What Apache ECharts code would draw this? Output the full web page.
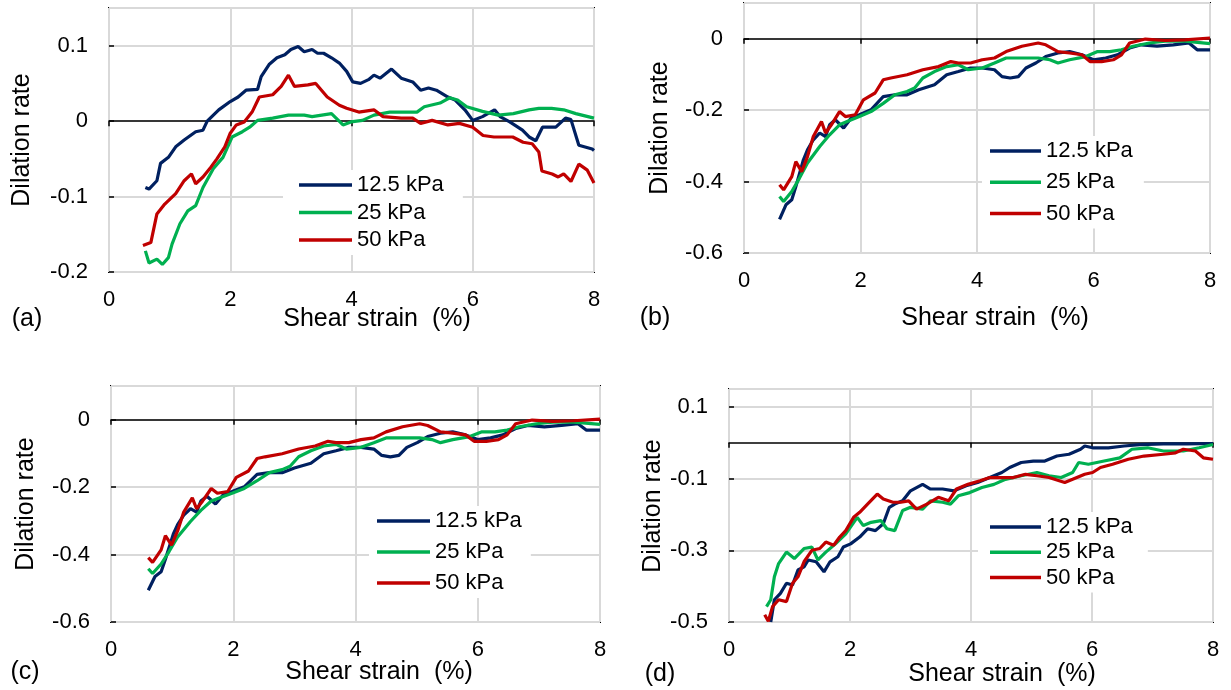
<!DOCTYPE html>
<html>
<head>
<meta charset="utf-8">
<script src="https://cdn.jsdelivr.net/npm/echarts@6/dist/echarts.min.js"></script>
<style>
html,body{margin:0;padding:0;background:#fff;}
#chart{width:1231px;height:690px;}
</style>
</head>
<body>
<div id="chart"></div>
<script>
// ---------- DATA ----------
const seriesNames = ['12.5 kPa', '25 kPa', '50 kPa'];
const xTicks = [0, 2, 4, 6, 8];

// (a)
const a125 = [[0.6,-0.088],[0.66,-0.09],[0.79,-0.079],[0.85,-0.056],[0.98,-0.048],[1.1,-0.034],[1.24,-0.025],[1.43,-0.014],[1.55,-0.012],[1.62,0.0],[1.81,0.015],[2.0,0.026],[2.13,0.032],[2.26,0.041],[2.45,0.042],[2.51,0.059],[2.64,0.075],[2.77,0.084],[2.9,0.088],[3.0,0.095],[3.12,0.099],[3.22,0.092],[3.35,0.095],[3.44,0.09],[3.54,0.09],[3.67,0.084],[3.8,0.077],[3.92,0.066],[4.02,0.052],[4.15,0.05],[4.28,0.055],[4.37,0.061],[4.47,0.057],[4.66,0.069],[4.82,0.057],[5.01,0.052],[5.14,0.041],[5.27,0.044],[5.4,0.041],[5.59,0.032],[5.71,0.028],[5.87,0.015],[6.0,0.001],[6.16,0.006],[6.36,0.015],[6.45,0.006],[6.61,-0.001],[6.82,-0.012],[6.93,-0.021],[7.04,-0.026],[7.15,-0.008],[7.37,-0.008],[7.53,0.004],[7.62,0.002],[7.75,-0.032],[7.97,-0.037],[8.0,-0.039]];
const a25 = [[0.6,-0.172],[0.66,-0.188],[0.79,-0.183],[0.88,-0.19],[0.98,-0.181],[1.04,-0.163],[1.17,-0.136],[1.3,-0.119],[1.43,-0.112],[1.55,-0.088],[1.72,-0.063],[1.88,-0.048],[2.03,-0.021],[2.2,-0.014],[2.32,-0.008],[2.45,0.001],[2.7,0.004],[2.96,0.008],[3.22,0.008],[3.35,0.006],[3.67,0.01],[3.86,-0.005],[3.99,-0.001],[4.18,0.001],[4.37,0.008],[4.63,0.012],[4.88,0.012],[5.08,0.012],[5.2,0.019],[5.46,0.024],[5.62,0.031],[5.75,0.028],[5.9,0.019],[6.16,0.013],[6.42,0.008],[6.67,0.01],[6.93,0.015],[7.09,0.017],[7.3,0.017],[7.5,0.015],[7.7,0.01],[8.0,0.004]];
const a50 = [[0.56,-0.165],[0.69,-0.161],[0.79,-0.123],[0.92,-0.11],[1.1,-0.096],[1.24,-0.079],[1.36,-0.07],[1.43,-0.083],[1.55,-0.074],[1.68,-0.061],[1.78,-0.05],[1.91,-0.034],[2.0,-0.016],[2.1,-0.005],[2.23,-0.001],[2.36,0.012],[2.48,0.032],[2.7,0.035],[2.84,0.046],[2.96,0.061],[3.06,0.046],[3.28,0.048],[3.41,0.05],[3.6,0.032],[3.8,0.021],[3.92,0.017],[4.12,0.012],[4.37,0.015],[4.52,0.006],[4.82,0.004],[5.01,0.004],[5.14,-0.003],[5.33,0.001],[5.59,-0.005],[5.78,-0.003],[6.0,-0.008],[6.17,-0.019],[6.35,-0.021],[6.66,-0.021],[6.83,-0.028],[6.98,-0.03],[7.09,-0.041],[7.14,-0.066],[7.31,-0.07],[7.41,-0.074],[7.5,-0.07],[7.62,-0.08],[7.75,-0.057],[7.89,-0.065],[8.0,-0.082]];

// (b) — panel (c) shows the same curves
const b125 = [[0.61,-0.506],[0.72,-0.465],[0.82,-0.451],[0.89,-0.414],[1.02,-0.339],[1.09,-0.311],[1.19,-0.283],[1.3,-0.264],[1.4,-0.274],[1.47,-0.241],[1.57,-0.227],[1.71,-0.25],[1.84,-0.222],[1.98,-0.213],[2.18,-0.199],[2.39,-0.162],[2.59,-0.157],[2.8,-0.157],[3.0,-0.143],[3.27,-0.129],[3.48,-0.101],[3.68,-0.092],[3.89,-0.082],[4.09,-0.082],[4.3,-0.087],[4.43,-0.106],[4.57,-0.11],[4.71,-0.106],[4.84,-0.082],[5.01,-0.068],[5.18,-0.05],[5.39,-0.04],[5.59,-0.036],[5.8,-0.045],[6.0,-0.059],[6.21,-0.054],[6.41,-0.045],[6.62,-0.026],[6.82,-0.017],[7.09,-0.021],[7.37,-0.017],[7.64,-0.012],[7.78,-0.031],[8.0,-0.031]];
const b25 = [[0.61,-0.442],[0.68,-0.456],[0.82,-0.428],[0.95,-0.391],[1.09,-0.348],[1.3,-0.302],[1.47,-0.269],[1.64,-0.241],[1.77,-0.232],[1.98,-0.218],[2.18,-0.204],[2.39,-0.181],[2.59,-0.157],[2.8,-0.148],[2.93,-0.138],[3.07,-0.11],[3.27,-0.092],[3.48,-0.078],[3.68,-0.073],[3.85,-0.087],[4.09,-0.082],[4.3,-0.068],[4.5,-0.054],[4.77,-0.054],[5.05,-0.054],[5.25,-0.059],[5.39,-0.068],[5.59,-0.059],[5.87,-0.05],[6.07,-0.036],[6.28,-0.036],[6.48,-0.031],[6.68,-0.021],[6.96,-0.012],[7.23,-0.007],[7.57,-0.007],[8.0,-0.014]];
const b50 = [[0.61,-0.409],[0.68,-0.423],[0.82,-0.386],[0.89,-0.344],[0.99,-0.372],[1.09,-0.33],[1.19,-0.274],[1.33,-0.232],[1.4,-0.264],[1.5,-0.241],[1.64,-0.204],[1.74,-0.218],[1.91,-0.213],[2.05,-0.171],[2.25,-0.152],[2.39,-0.115],[2.52,-0.11],[2.8,-0.101],[3.07,-0.087],[3.34,-0.078],[3.55,-0.064],[3.68,-0.068],[3.89,-0.068],[4.09,-0.059],[4.3,-0.054],[4.5,-0.036],[4.77,-0.021],[5.05,-0.012],[5.18,-0.017],[5.39,-0.036],[5.59,-0.04],[5.8,-0.045],[5.94,-0.064],[6.14,-0.064],[6.34,-0.059],[6.48,-0.045],[6.62,-0.012],[6.89,-0.001],[7.23,-0.005],[7.57,-0.003],[8.0,0.002]];

// (d)
const d125 = [[0.69,-0.5],[0.75,-0.438],[0.85,-0.42],[0.95,-0.392],[1.05,-0.397],[1.14,-0.355],[1.24,-0.346],[1.31,-0.327],[1.44,-0.332],[1.57,-0.36],[1.67,-0.332],[1.8,-0.318],[1.89,-0.291],[2.01,-0.282],[2.16,-0.263],[2.29,-0.24],[2.42,-0.245],[2.55,-0.226],[2.65,-0.18],[2.74,-0.171],[2.87,-0.162],[3.0,-0.134],[3.2,-0.116],[3.33,-0.129],[3.53,-0.129],[3.72,-0.134],[3.92,-0.12],[4.11,-0.111],[4.31,-0.097],[4.51,-0.083],[4.64,-0.069],[4.83,-0.055],[5.03,-0.051],[5.22,-0.051],[5.42,-0.037],[5.62,-0.032],[5.81,-0.018],[5.88,-0.009],[6.01,-0.014],[6.27,-0.014],[6.53,-0.009],[6.79,-0.005],[7.18,-0.003],[7.58,-0.003],[8.0,-0.002]];
const d25 = [[0.62,-0.457],[0.69,-0.438],[0.75,-0.374],[0.82,-0.337],[0.95,-0.305],[1.08,-0.323],[1.24,-0.295],[1.37,-0.291],[1.47,-0.327],[1.6,-0.305],[1.76,-0.282],[1.93,-0.254],[2.12,-0.208],[2.22,-0.231],[2.35,-0.222],[2.51,-0.217],[2.61,-0.24],[2.74,-0.245],[2.87,-0.189],[3.0,-0.18],[3.2,-0.185],[3.33,-0.162],[3.53,-0.166],[3.66,-0.171],[3.79,-0.148],[3.98,-0.139],[4.18,-0.125],[4.38,-0.116],[4.57,-0.102],[4.83,-0.092],[5.09,-0.083],[5.29,-0.092],[5.49,-0.097],[5.68,-0.083],[5.78,-0.055],[5.94,-0.06],[6.2,-0.051],[6.46,-0.042],[6.66,-0.018],[6.92,-0.014],[7.18,-0.023],[7.51,-0.023],[7.77,-0.014],[8.0,-0.005]];
const d50 = [[0.59,-0.48],[0.65,-0.498],[0.72,-0.457],[0.82,-0.438],[0.95,-0.443],[1.05,-0.392],[1.14,-0.374],[1.24,-0.332],[1.37,-0.3],[1.5,-0.295],[1.6,-0.277],[1.73,-0.286],[1.83,-0.263],[1.93,-0.245],[2.06,-0.208],[2.16,-0.194],[2.29,-0.171],[2.45,-0.143],[2.55,-0.157],[2.71,-0.166],[2.84,-0.166],[2.97,-0.162],[3.1,-0.185],[3.27,-0.171],[3.46,-0.152],[3.63,-0.162],[3.76,-0.129],[3.95,-0.116],[4.15,-0.106],[4.31,-0.097],[4.51,-0.097],[4.7,-0.097],[4.9,-0.088],[5.09,-0.092],[5.29,-0.097],[5.55,-0.111],[5.68,-0.102],[5.88,-0.088],[6.01,-0.083],[6.14,-0.069],[6.34,-0.06],[6.6,-0.046],[6.86,-0.037],[7.18,-0.032],[7.38,-0.028],[7.51,-0.018],[7.71,-0.023],[7.84,-0.042],[8.0,-0.046]];

const yA = {min: -0.2, max: 0.15, interval: 0.1};
const yB = {min: -0.6, max: 0.1, interval: 0.2};
const yC = {min: -0.6, max: 0.1, interval: 0.2};
const yD = {min: -0.5, max: 0.15, interval: 0.2};

// ---------- LAYOUT / STYLE ----------
const FONT = "'Liberation Sans', Arial, sans-serif";
const COLORS = ['#002060', '#00b050', '#c00000'];
const GRIDC = '#d9d9d9';

const panels = [
  {grid:{left:109, top:8, width:485, height:264}, y:yA, data:[a125,a25,a50],
   legend:{left:283, top:170, itemGap:5.5, itemWidth:53, padding:[4,19,4,16]},
   ylab:[22.5,140], xlab:[377,319], tag:[27,319], tagText:'(a)'},
  {grid:{left:744, top:3, width:466, height:250}, y:yB, data:[b125,b25,b50],
   legend:{left:982, top:136, itemGap:9.3, itemWidth:51, padding:[4,11,4,8]},
   ylab:[660,128], xlab:[995,318], tag:[655,318], tagText:'(b)'},
  {grid:{left:111, top:386, width:489, height:236}, y:yC, data:[b125,b25,b50],
   legend:{left:369, top:506, itemGap:9, itemWidth:53, padding:[4,9,4,8]},
   ylab:[26,504], xlab:[379,672], tag:[25,672], tagText:'(c)'},
  {grid:{left:729, top:389, width:484, height:233}, y:yD, data:[d125,d25,d50],
   legend:{left:978, top:512, itemGap:3.3, itemWidth:51, padding:[4,15,4,12]},
   ylab:[653,506], xlab:[1002,674], tag:[660,674], tagText:'(d)'}
];

const grid = [], xAxis = [], yAxis = [], series = [], legend = [], graphic = [];
panels.forEach((p, i) => {
  grid.push(Object.assign({show:true, borderColor:'#000', borderWidth:2, backgroundColor:'transparent', containLabel:false}, p.grid));
  // axis line on y=0 with ticks
  xAxis.push({type:'value', gridIndex:i, min:xTicks[0], max:xTicks[xTicks.length-1], interval:2,
    axisLine:{show:true, onZero:true, lineStyle:{color:'#000', width:1.5}},
    axisTick:{show:true, inside:false, length:5, lineStyle:{color:'#000', width:1.5}},
    axisLabel:{show:false},
    splitLine:{show:true, lineStyle:{color:GRIDC, width:2}}});
  // labels at bottom
  xAxis.push({type:'value', gridIndex:i, position:'bottom', min:xTicks[0], max:xTicks[xTicks.length-1], interval:2,
    axisLine:{show:false, onZero:false}, axisTick:{show:false},
    axisLabel:{show:true, margin:17, fontSize:22, color:'#000', fontFamily:FONT},
    splitLine:{show:false}});
  yAxis.push({type:'value', gridIndex:i, min:p.y.min, max:p.y.max, interval:p.y.interval,
    axisLine:{show:false},
    axisTick:{show:true, inside:true, length:5, lineStyle:{color:'#000', width:1.5}},
    axisLabel:{show:true, margin:21, fontSize:22, color:'#000', fontFamily:FONT, showMaxLabel:false},
    splitLine:{show:true, lineStyle:{color:GRIDC, width:2}}});
  p.data.forEach((d, k) => {
    series.push({type:'line', name:seriesNames[k], xAxisIndex:2*i, yAxisIndex:i, data:d,
      symbol:'none', showSymbol:false, clip:true, animation:false, z:3,
      lineStyle:{color:COLORS[k], width:3.2}, itemStyle:{color:COLORS[k]}});
  });
  legend.push({data:seriesNames, orient:'vertical', left:p.legend.left, top:p.legend.top,
    icon:'rect', itemGap:p.legend.itemGap, itemWidth:p.legend.itemWidth, itemHeight:3.5,
    padding:p.legend.padding, backgroundColor:'#fff', selectedMode:false,
    textStyle:{fontSize:22, lineHeight:22, color:'#000', fontFamily:FONT}});
  graphic.push({type:'text', x:p.ylab[0], y:p.ylab[1], rotation:Math.PI/2,
    style:{text:'Dilation rate', fontSize:25, fontFamily:FONT, fill:'#000', align:'center', verticalAlign:'middle'}});
  graphic.push({type:'text', x:p.xlab[0], y:p.xlab[1],
    style:{text:'Shear strain  (%)', fontSize:25, fontFamily:FONT, fill:'#000', align:'center', verticalAlign:'middle'}});
  graphic.push({type:'text', x:p.tag[0], y:p.tag[1],
    style:{text:p.tagText, fontSize:25, fontFamily:FONT, fill:'#000', align:'center', verticalAlign:'middle'}});
});

const chart = echarts.init(document.getElementById('chart'), null, {renderer:'canvas'});
chart.setOption({animation:false, backgroundColor:'#fff', grid, xAxis, yAxis, series, legend, graphic});
</script>
</body>
</html>
